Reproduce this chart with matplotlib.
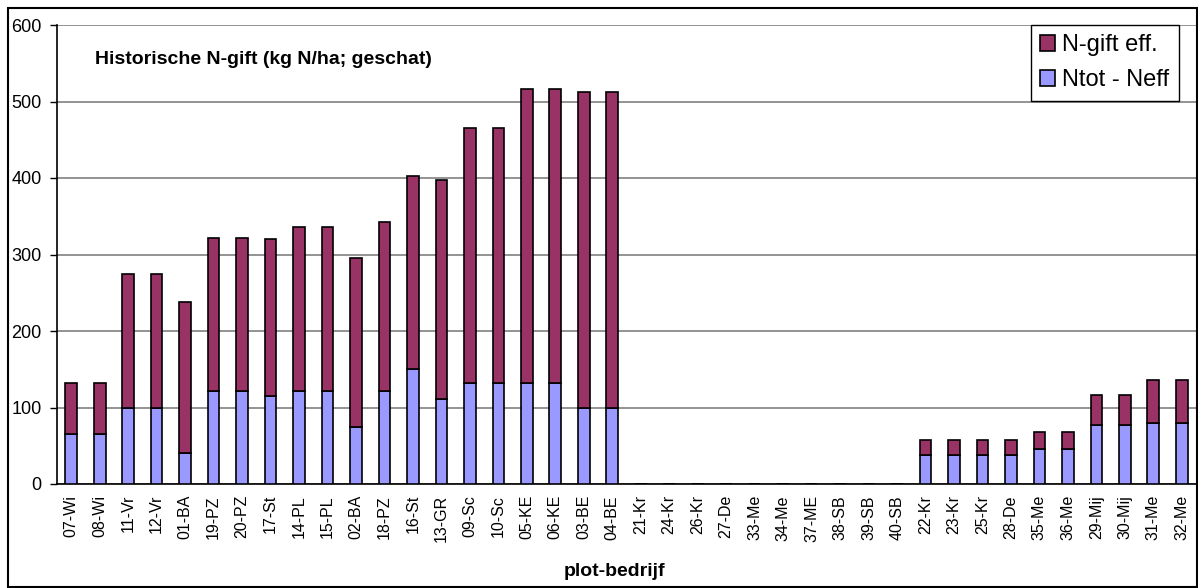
import matplotlib
matplotlib.use('Agg')
import matplotlib.pyplot as plt
from matplotlib.patches import Rectangle

plt.rcParams['font.family'] = ['Liberation Sans', 'DejaVu Sans']

# plot codes along the x axis
plots = ['07-Wi', '08-Wi', '11-Vr', '12-Vr', '01-BA', '19-PZ', '20-PZ', '17-St',
         '14-PL', '15-PL', '02-BA', '18-PZ', '16-St', '13-GR', '09-Sc', '10-Sc',
         '05-KE', '06-KE', '03-BE', '04-BE', '21-Kr', '24-Kr', '26-Kr', '27-De',
         '33-Me', '34-Me', '37-ME', '38-SB', '39-SB', '40-SB', '22-Kr', '23-Kr',
         '25-Kr', '28-De', '35-Me', '36-Me', '29-Mij', '30-Mij', '31-Me', '32-Me']

# Ntot - Neff (bottom part)
ntot_min_neff = [65, 65, 100, 100, 40, 122, 122, 115, 122, 122, 75, 122, 150, 111,
                 132, 132, 132, 132, 100, 100, 0, 0, 0, 0, 0, 0, 0, 0, 0, 0,
                 38, 38, 38, 38, 46, 46, 77, 77, 80, 80]

# N-gift eff. (top part)
ngift_eff = [67, 67, 175, 175, 198, 200, 200, 205, 214, 214, 220, 221, 252, 286,
             334, 334, 384, 384, 413, 413, 0, 0, 0, 0, 0, 0, 0, 0, 0, 0,
             19, 19, 19, 19, 22, 22, 39, 39, 56, 56]

yticks = [0, 100, 200, 300, 400, 500, 600]

W, H = 1198, 588
fig = plt.figure(figsize=(W / 100, H / 100), dpi=100)
ax = fig.add_axes([57 / W, 1 - 484 / H, (1196 - 57) / W, (484 - 25) / H])

x = range(len(plots))
ax.bar(x, ntot_min_neff, width=0.41, color='#9999FF', edgecolor='black',
       linewidth=1.2, label='Ntot - Neff', zorder=3)
ax.bar(x, ngift_eff, width=0.41, bottom=ntot_min_neff, color='#993366',
       edgecolor='black', linewidth=1.2, label='N-gift eff.', zorder=3)

ax.set_xlim(-0.5, len(plots) - 0.5)
ax.set_ylim(0, 600)
ax.set_yticks(yticks)
ax.set_yticklabels([str(v) for v in yticks], fontsize=13)
ax.set_xticks(list(x))
ax.set_xticklabels(plots, rotation=90, fontsize=11.5)
ax.tick_params(axis='x', length=0, pad=8)
ax.tick_params(axis='y', length=5, width=1, pad=6)

ax.yaxis.grid(True, color='#808080', linewidth=1.2, zorder=0)
ax.set_axisbelow(True)
for s in ['top', 'right']:
    ax.spines[s].set_visible(False)
ax.spines['left'].set_linewidth(1.2)
ax.spines['bottom'].set_linewidth(1.2)

ax.text(95 / W, 1 - 60 / H, 'Historische N-gift (kg N/ha; geschat)',
        transform=fig.transFigure, fontsize=14, fontweight='bold', va='center')
fig.text(615 / W, 1 - 572 / H, 'plot-bedrijf', fontsize=14,
         fontweight='bold', ha='center', va='center')

handles, labels = ax.get_legend_handles_labels()
leg = ax.legend(handles[::-1], labels[::-1], loc='upper right',
                bbox_to_anchor=(1179 / W, 1 - 25 / H),
                bbox_transform=fig.transFigure, fontsize=17, fancybox=False,
                framealpha=1, edgecolor='black', handlelength=0.65,
                handleheight=0.65, handletextpad=0.3, borderpad=0.4,
                labelspacing=0.55, borderaxespad=0)
leg.get_frame().set_linewidth(1)

# outer chart border
fig.patches.append(Rectangle((8 / W, 1 / H), 1189 / W, 579 / H,
                             transform=fig.transFigure, fill=False,
                             edgecolor='black', linewidth=1.5))

fig.savefig('out.png', dpi=100)
